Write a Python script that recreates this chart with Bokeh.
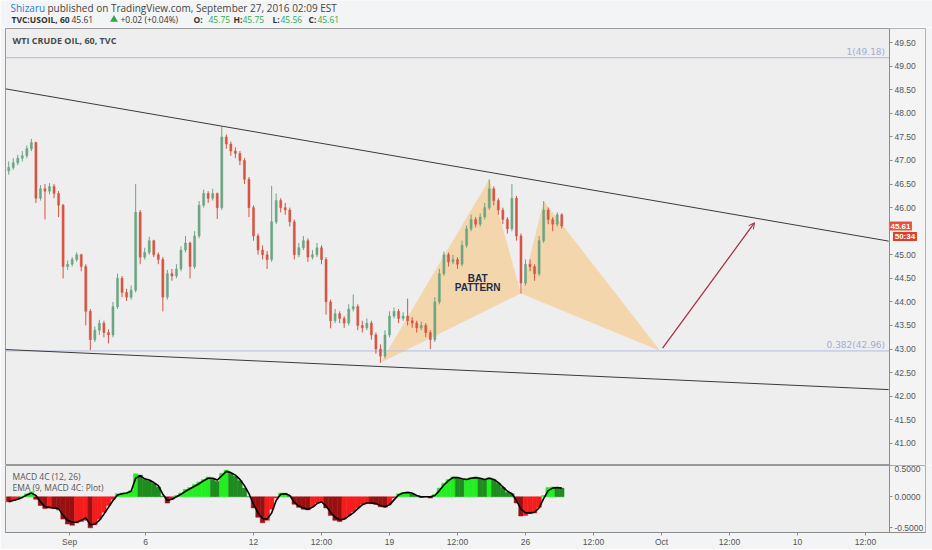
"""
WTI crude oil 60-minute chart with a bat pattern and MACD 4C panel
"""
import numpy as np

from bokeh.core.properties import value
from bokeh.embed import file_html
from bokeh.layouts import column
from bokeh.models import (
    Arrow,
    BoxAnnotation,
    ColumnDataSource,
    FixedTicker,
    NumeralTickFormatter,
    OpenHead,
    Range1d,
)
from bokeh.plotting import figure
from bokeh.resources import INLINE

# ---- data (x in trading-day units, one candle every 4 hours) ----
first_bar = 1.0
bar_step = 1 / 6
first_open = 46.78

closes = [
    46.85, 46.95, 47.05, 47.10, 47.25, 47.38, 46.20, 46.40, 46.35, 46.45,
    46.30, 46.05, 44.75, 44.80, 44.90, 45.00, 44.75, 43.80, 43.20, 43.40,
    43.55, 43.35, 43.30, 43.90, 44.50, 44.20, 44.10, 44.25, 45.90, 44.95,
    45.05, 45.30, 45.00, 44.90, 44.10, 44.60, 44.55, 44.70, 45.10, 45.25,
    44.75, 45.40, 46.05, 46.30, 46.20, 46.30, 46.00, 47.50, 47.35, 47.20,
    47.15, 47.00, 46.60, 46.00, 45.40, 45.10, 45.00, 44.90, 45.70, 46.15,
    46.00, 45.95, 45.70, 45.00, 45.15, 45.30, 44.95, 45.00, 45.15, 44.90,
    44.00, 43.60, 43.75, 43.65, 43.55, 43.85, 43.90, 43.50, 43.45, 43.55,
    43.30, 43.00, 42.85, 43.30, 43.70, 43.80, 43.65, 43.70, 43.60, 43.55,
    43.45, 43.50, 43.35, 43.20, 44.00, 44.60, 45.00, 44.85, 44.90, 44.80,
    45.20, 45.55, 45.75, 45.65, 45.80, 46.00, 46.40, 46.15, 45.95, 45.75,
    45.55, 46.20, 45.40, 44.40, 44.80, 44.75, 44.60, 45.30, 45.95, 45.75,
    45.65, 45.85, 45.61,
]
highs = [
    46.98, 47.05, 47.12, 47.20, 47.32, 47.46, 47.40, 46.48, 46.50, 46.52,
    46.50, 46.35, 46.08, 44.88, 44.95, 45.05, 45.02, 44.80, 43.85, 43.48,
    43.62, 43.60, 43.42, 44.00, 44.60, 44.55, 44.28, 44.35, 46.50, 45.95,
    45.15, 45.38, 45.32, 45.05, 44.95, 44.68, 44.70, 44.80, 45.18, 45.40,
    45.28, 45.50, 46.14, 46.38, 46.35, 46.40, 46.32, 47.72, 47.55, 47.40,
    47.28, 47.20, 47.05, 46.65, 46.05, 45.45, 45.20, 45.08, 46.46, 46.30,
    46.20, 46.10, 46.00, 45.75, 45.25, 45.40, 45.35, 45.10, 45.25, 45.20,
    44.95, 44.05, 43.85, 43.80, 43.70, 43.95, 44.16, 43.95, 43.60, 43.65,
    43.60, 43.35, 43.10, 43.40, 43.80, 43.88, 43.85, 43.78, 44.07, 43.68,
    43.60, 43.58, 43.55, 43.40, 44.10, 44.70, 45.07, 45.05, 45.00, 44.95,
    45.30, 45.62, 45.85, 45.80, 45.88, 46.10, 46.60, 46.45, 46.20, 46.00,
    45.80, 46.50, 46.25, 45.45, 44.90, 44.90, 44.80, 45.40, 46.14, 46.00,
    45.80, 45.90, 45.88,
]
lows = [
    46.70, 46.80, 46.90, 46.98, 47.05, 47.20, 46.10, 46.15, 45.75, 46.28,
    46.20, 45.80, 44.50, 44.68, 44.75, 44.85, 44.65, 43.50, 42.98, 43.15,
    43.30, 43.25, 43.12, 43.25, 43.85, 44.10, 44.02, 44.05, 44.20, 44.80,
    44.90, 45.00, 44.95, 44.80, 43.80, 44.05, 44.45, 44.50, 44.65, 45.05,
    44.50, 44.70, 45.35, 46.00, 46.10, 46.15, 45.76, 45.95, 47.25, 47.10,
    47.05, 46.90, 46.50, 45.80, 45.30, 45.00, 44.90, 44.70, 44.85, 45.65,
    45.90, 45.85, 45.60, 44.90, 44.95, 45.10, 44.85, 44.90, 44.95, 44.80,
    43.73, 43.44, 43.55, 43.55, 43.45, 43.50, 43.80, 43.40, 43.35, 43.40,
    43.20, 42.90, 42.71, 42.80, 43.25, 43.65, 43.55, 43.60, 43.50, 43.45,
    43.35, 43.40, 43.25, 43.00, 43.15, 43.95, 44.55, 44.75, 44.80, 44.70,
    44.75, 45.15, 45.50, 45.58, 45.60, 45.75, 45.95, 46.05, 45.85, 45.65,
    45.45, 45.50, 45.30, 44.18, 44.35, 44.65, 44.45, 44.55, 45.25, 45.65,
    45.50, 45.60, 45.56,
]

macd_hist = [
    -0.08, -0.06, -0.03, 0.01, 0.05, 0.08, -0.04, -0.14, -0.19, -0.18,
    -0.19, -0.21, -0.36, -0.44, -0.46, -0.42, -0.40, -0.38, -0.50, -0.45,
    -0.36, -0.25, -0.14, -0.04, 0.05, 0.06, 0.06, 0.10, 0.37, 0.35,
    0.28, 0.26, 0.22, 0.16, 0.01, -0.10, -0.04, 0.02, 0.06, 0.12,
    0.15, 0.20, 0.24, 0.28, 0.32, 0.30, 0.25, 0.38, 0.43, 0.38,
    0.33, 0.26, 0.14, 0.00, -0.18, -0.33, -0.42, -0.38, -0.20, -0.02,
    0.06, 0.06, 0.01, -0.12, -0.17, -0.20, -0.21, -0.16, -0.10, -0.08,
    -0.18, -0.30, -0.38, -0.40, -0.36, -0.30, -0.24, -0.18, -0.12, -0.10,
    -0.11, -0.12, -0.16, -0.17, -0.12, -0.02, 0.05, 0.07, 0.08, 0.05,
    0.01, -0.01, 0.00, -0.02, 0.04, 0.14, 0.22, 0.28, 0.32, 0.30,
    0.28, 0.29, 0.31, 0.32, 0.29, 0.27, 0.31, 0.28, 0.22, 0.15,
    0.07, 0.05, -0.10, -0.31, -0.30, -0.27, -0.26, -0.17, 0.02, 0.15,
    0.16, 0.15, 0.14,
]
macd_signal = [
    -0.08, -0.06, -0.04, -0.01, 0.03, 0.06, 0.02, -0.08, -0.16, -0.17,
    -0.18, -0.19, -0.30, -0.38, -0.41, -0.41, -0.38, -0.34, -0.45, -0.44,
    -0.38, -0.28, -0.17, -0.06, 0.03, 0.05, 0.06, 0.09, 0.30, 0.34,
    0.29, 0.27, 0.23, 0.18, 0.04, -0.06, -0.04, 0.00, 0.04, 0.09,
    0.13, 0.17, 0.21, 0.26, 0.30, 0.30, 0.27, 0.34, 0.41, 0.39,
    0.35, 0.28, 0.18, 0.05, -0.12, -0.26, -0.35, -0.36, -0.26, -0.06,
    0.04, 0.05, 0.02, -0.09, -0.15, -0.18, -0.20, -0.17, -0.11, -0.08,
    -0.15, -0.25, -0.33, -0.37, -0.36, -0.31, -0.26, -0.19, -0.13, -0.10,
    -0.10, -0.11, -0.14, -0.16, -0.13, -0.05, 0.03, 0.06, 0.07, 0.06,
    0.02, 0.00, 0.00, 0.00, 0.02, 0.10, 0.19, 0.26, 0.31, 0.31,
    0.29, 0.28, 0.30, 0.31, 0.30, 0.28, 0.30, 0.28, 0.23, 0.16,
    0.09, 0.05, -0.06, -0.20, -0.26, -0.26, -0.25, -0.18, -0.03, 0.10,
    0.14, 0.15, 0.14,
]

tick_pos = [3.24, 6.03, 10, 12.5, 15, 17.5, 20, 22.5, 25, 27.5, 30, 32.5]
tick_labels = ["Sep", "6", "12", "12:00", "19", "12:00", "26", "12:00",
               "Oct", "12:00", "10", "12:00"]
# 45.50 is hidden behind the price tags on the original scale
price_ticks = [41.0, 41.5, 42.0, 42.5, 43.0, 43.5, 44.0, 44.5, 45.0,
               46.0, 46.5, 47.0, 47.5, 48.0, 48.5, 49.0, 49.5]
macd_ticks = [-0.5, 0.0, 0.5]

fib_levels = [49.18, 42.96]
fib_labels = ["1(49.18)", "0.382(42.96)"]

# bat pattern X, A, B, C, D
pattern_time = [14.67, 18.67, 19.83, 20.67, 24.96]
pattern_price = [42.71, 46.60, 44.18, 46.14, 42.96]

trend_time = [0.88, 33.35]
upper_trend = [48.52, 45.29]
lower_trend = [42.99, 42.14]

target_time = [25.04, 28.42]
target_price = [43.02, 45.68]

last_price = 45.61
countdown = "50:34"
countdown_level = 45.39

# ---- layout constants ----
FRAME_W = 920              # frame covers the price scale column too
DAY_PX = 27.2              # pixels per trading day
X_START = 0.882
X_AXIS = 33.38             # where the price scale sits
X_END = X_START + FRAME_W / DAY_PX
BG = "#eeeeee"
SCALE_BG = "#f4f4f4"
PAGE_BG = "#f3f4f6"
UP, DOWN = "#6ba583", "#d75442"


def style_scale(ax):
    ax.fixed_location = X_AXIS
    ax.axis_line_color = "#8c8c8c"
    ax.major_tick_line_color = "#8c8c8c"
    ax.minor_tick_line_color = None
    ax.major_tick_in = 0
    ax.major_tick_out = 3
    ax.major_label_standoff = 2
    ax.major_label_text_font = "Liberation Sans"
    ax.major_label_text_font_size = "8.5px"
    ax.major_label_text_color = "#555555"


def scale_column(fig):
    fig.add_layout(BoxAnnotation(left=X_AXIS, fill_color=SCALE_BG,
                                 fill_alpha=1, line_color=None,
                                 level="underlay"))


# ---- header ----
head = figure(frame_width=932, frame_height=27, x_range=Range1d(0, 932),
              y_range=Range1d(27, 0), output_backend="svg",
              toolbar_location=None, min_border=0,
              x_axis_location=None, y_axis_location=None)
head.background_fill_color = PAGE_BG
head.border_fill_color = PAGE_BG
head.outline_line_color = None
head.grid.visible = False

head.text(x=[5], y=[7], text=["Shizaru"], text_font=value("Open Sans"),
          text_font_size="10px", text_color="#2e7bcf", text_baseline="middle")
head.text(x=[42], y=[7],
          text=["published on TradingView.com, September 27, 2016 02:09 EST"],
          text_font=value("Open Sans"), text_font_size="10px",
          text_color="#444444", text_baseline="middle")
head.text(x=[6, 188, 228, 267, 303], y=[19] * 5,
          text=["TVC:USOIL, 60", "O:", "H:", "L:", "C:"],
          text_font=value("Open Sans"), text_font_size="8.5px",
          text_font_style="bold", text_color="#333333", text_baseline="middle")
head.text(x=[66, 115], y=[19] * 2, text=[f"{last_price:.2f}", "+0.02 (+0.04%)"],
          text_font=value("Open Sans"), text_font_size="8.5px",
          text_color="#333333", text_baseline="middle")
head.text(x=[203, 237, 275, 312], y=[19] * 4,
          text=["45.75", "45.75", "45.56", f"{last_price:.2f}"],
          text_font=value("Open Sans"), text_font_size="8.5px",
          text_color="#2faa4a", text_baseline="middle")
head.scatter(x=[108.5], y=[19], marker="triangle", size=8,
             fill_color="#2faa4a", line_color=None)

# ---- price panel ----
x_range = Range1d(X_START, X_END)
p = figure(frame_width=FRAME_W, frame_height=437, x_range=x_range,
           y_range=Range1d(40.53, 49.80), output_backend="svg",
           toolbar_location=None, x_axis_location=None,
           y_axis_location="right", min_border_left=5, min_border_right=7,
           min_border_top=1, min_border_bottom=0)
p.background_fill_color = BG
p.border_fill_color = PAGE_BG
p.outline_line_color = "#9a9a9a"
p.grid.visible = False
scale_column(p)
style_scale(p.yaxis[0])
p.yaxis.ticker = FixedTicker(ticks=price_ticks)
p.yaxis.formatter = NumeralTickFormatter(format="0.00")

n = len(closes)
bar_x = first_bar + np.arange(n) * bar_step
opens = [first_open] + closes[:-1]
candles = ColumnDataSource(data=dict(
    x=bar_x, open=opens, close=closes, high=highs, low=lows,
    top=np.maximum(opens, closes), bottom=np.minimum(opens, closes),
    color=[UP if c >= o else DOWN for o, c in zip(opens, closes)],
))

# bat pattern shading (XAB and BCD)
p.patches(
    xs=[[pattern_time[i] for i in (0, 1, 2)], [pattern_time[i] for i in (2, 3, 4)]],
    ys=[[pattern_price[i] for i in (0, 1, 2)], [pattern_price[i] for i in (2, 3, 4)]],
    fill_color="#f6cc92", fill_alpha=0.7, line_color=None,
)

p.segment(x0=X_START, x1=X_AXIS, y0=fib_levels, y1=fib_levels,
          line_color="#b3bbe3", line_width=1)
p.text(x=[X_AXIS - 0.16] * 2, y=fib_levels, text=fib_labels, text_align="right",
       text_baseline="bottom", y_offset=-1, text_font=value("DejaVu Sans"),
       text_font_size="9px", text_color="#a3abd6")

p.segment(x0="x", y0="low", x1="x", y1="high", color="color", line_width=1,
          source=candles)
p.vbar(x="x", top="top", bottom="bottom", width=bar_step * 0.45,
       fill_color="color", line_color="color", line_width=0.5, source=candles)

p.line(trend_time, upper_trend, line_color="#3a3a3a", line_width=1)
p.line(trend_time, lower_trend, line_color="#3a3a3a", line_width=1)

p.add_layout(Arrow(
    end=OpenHead(size=6, line_color="#a8283e", line_width=1),
    x_start=target_time[0], y_start=target_price[0],
    x_end=target_time[1], y_end=target_price[1],
    line_color="#a8283e", line_width=1.2,
))

p.text(x=[18.24, 18.24], y=[44.49, 44.30], text=["BAT", "PATTERN"],
       text_align="center", text_baseline="middle",
       text_font=value("Liberation Sans"), text_font_size="10px",
       text_font_style="bold", text_color="#1d2e4a")

p.text(x=[1.14], y=[49.54], text=["WTI CRUDE OIL, 60, TVC"],
       text_baseline="middle", text_font=value("Open Sans"),
       text_font_size="9px", text_font_style="bold", text_color="#4a4a4a")

# price tags on the scale: last price and bar countdown
tag_x = [X_AXIS + 11 / DAY_PX, X_AXIS + 15.5 / DAY_PX]
tag_y = [last_price, countdown_level]
p.rect(x=tag_x, y=tag_y, width=[23, 24], height=9, width_units="screen",
       height_units="screen", fill_color=["#e8503c", "#d9412b"], line_color=None)
p.text(x=tag_x, y=tag_y, text=[f"{last_price:.2f}", countdown],
       text_align="center", text_baseline="middle",
       text_font=value("Liberation Sans"), text_font_size="8px",
       text_font_style="bold", text_color="white")

# ---- MACD panel ----
m = figure(frame_width=FRAME_W, frame_height=67, x_range=x_range,
           y_range=Range1d(-0.576, 0.505), output_backend="svg",
           toolbar_location=None, y_axis_location="right",
           min_border_left=5, min_border_right=7, min_border_top=0,
           min_border_bottom=17)
m.background_fill_color = BG
m.border_fill_color = PAGE_BG
m.outline_line_color = "#9a9a9a"
m.grid.visible = False
scale_column(m)
style_scale(m.yaxis[0])
m.yaxis.ticker = FixedTicker(ticks=macd_ticks)
m.yaxis.formatter = NumeralTickFormatter(format="0.0000")

xa = m.xaxis[0]
xa.ticker = FixedTicker(ticks=tick_pos)
xa.major_label_overrides = {t: lab for t, lab in zip(tick_pos, tick_labels)}
xa.axis_line_color = "#8c8c8c"
xa.major_tick_line_color = "#8c8c8c"
xa.minor_tick_line_color = None
xa.major_tick_in = 0
xa.major_tick_out = 3
xa.major_label_standoff = 1
xa.major_label_text_font = "Liberation Sans"
xa.major_label_text_font_size = "8.5px"
xa.major_label_text_color = "#555555"

hist_colors = []
prev = macd_hist[0]
for v in macd_hist:
    if v >= 0:
        hist_colors.append("#22ee22" if v >= prev else "#1e8c1e")
    else:
        hist_colors.append("#f51c1c" if v > prev else "#9a1010")
    prev = v

m.vbar(x=bar_x, top=macd_hist, bottom=0, width=bar_step,
       fill_color=hist_colors, line_color=hist_colors, line_width=0.5)
m.line(bar_x, macd_signal, line_color="black", line_width=1.6)

m.text(x=[1.14, 1.14], y=[0.33, 0.15],
       text=["MACD 4C (12, 26)", "EMA (9, MACD 4C: Plot)"],
       text_baseline="middle", text_font=value("Open Sans"),
       text_font_size="8.5px", text_color="#555555")

layout = column(head, p, m, spacing=0)
open("out.html", "w").write(file_html(layout, INLINE))
